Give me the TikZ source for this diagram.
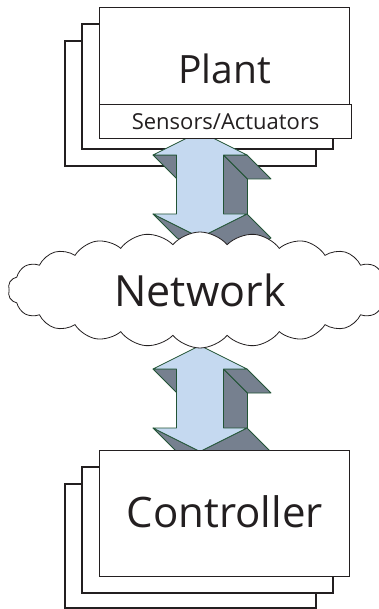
\documentclass[tikz,border=0pt]{standalone}
\usepackage{fontspec}
\setmainfont{Open Sans}
\usepackage{tikz}
\usetikzlibrary{shapes.symbols}

\definecolor{arrowblue}{RGB}{197,217,240}
\definecolor{arrowgray}{RGB}{118,128,143}
\definecolor{arrowedge}{RGB}{34,84,54}
\definecolor{ink}{RGB}{35,31,32}

% extruded double arrow, centred on the given coordinate
\newcommand{\fatarrow}[1]{%
  \begin{scope}[shift={(#1)}]
    % side faces seen from the front
    \filldraw[side] (23.5,-29.5) -- (23.5,29.5) -- ++(24,24) -- (47.5,-5.5) -- cycle;
    \filldraw[side] (47,-29.5) -- (23.5,-29.5) -- ++(24,24) -- (71,-5.5) -- cycle;
    \filldraw[side] (47,29.5) -- (0,53) -- ++(24,24) -- (71,53.5) -- cycle;
    \filldraw[side] (0,53) -- (-47,29.5) -- ++(24,24) -- (24,77) -- cycle;
    \filldraw[side] (-23.5,-29.5) -- (-47,-29.5) -- ++(24,24) -- (0.5,-5.5) -- cycle;
    % front face
    \filldraw[face] (0,-53) -- (47,-29.5) -- (23.5,-29.5) -- (23.5,29.5)
      -- (47,29.5) -- (0,53) -- (-47,29.5) -- (-23.5,29.5) -- (-23.5,-29.5)
      -- (-47,-29.5) -- cycle;
  \end{scope}}

\begin{document}
\begin{tikzpicture}[x=1pt,y=-1pt,
    box/.style={draw=ink,line width=1.3pt,fill=white},
    label/.style={rectangle,box,inner xsep=0pt,inner ysep=0pt,text=ink},
    side/.style={fill=arrowgray,draw=arrowedge,line width=0.8pt,line join=round},
    face/.style={fill=arrowblue,draw=arrowedge,line width=0.8pt,line join=round}]
  \useasboundingbox (0,0) rectangle (379,609);

  % plant, stacked copies behind
  \filldraw[box] (65,41) rectangle (316,166);
  \filldraw[box] (82,24) rectangle (333,149);
  \coordinate (uparrow) at (200,184.5);
  \fatarrow{uparrow}
  \node[label,anchor=north west,minimum width=250,text height=76,text depth=21,
        font=\fontsize{39}{46}\selectfont] (plant) at (99,7) {Plant};
  \node[label,anchor=north west,minimum width=252,text height=25,text depth=9,
        font=\fontsize{22}{26}\selectfont] (sensors) at (99,104) {Sensors/Actuators};

  % lower arrow goes under the controller stack
  \coordinate (downarrow) at (200,398.5);
  \fatarrow{downarrow}

  % controller, stacked copies behind
  \filldraw[box] (65,484) rectangle (316,608);
  \filldraw[box] (82,467) rectangle (333,593);
  \node[label,anchor=north west,minimum width=250,text height=77,text depth=49,
        font=\fontsize{42}{50}\selectfont] (controller) at (99,450) {Controller};

  % network cloud on top of both arrows
  \node[cloud,cloud puffs=22,cloud puff arc=100,aspect=3.3,draw=ink,line width=0.8pt,
        fill=white,minimum width=384,minimum height=116,inner sep=0pt,text=ink,
        font=\fontsize{43}{50}\selectfont] (network) at (200,290) {Network};
\end{tikzpicture}
\end{document}
